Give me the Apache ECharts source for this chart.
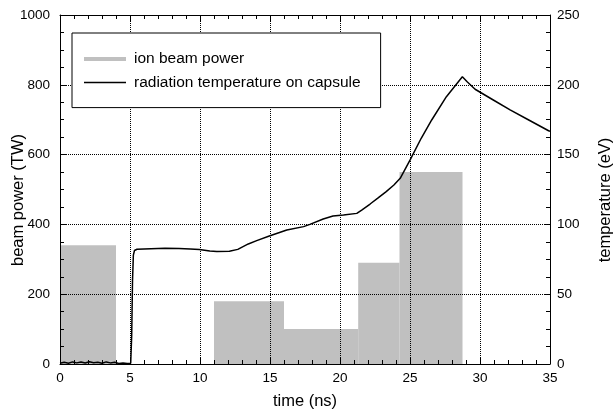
<!DOCTYPE html>
<html>
<head>
<meta charset="utf-8">
<script src="https://cdn.jsdelivr.net/npm/echarts@6/dist/echarts.min.js"></script>
<style>html,body{margin:0;padding:0;background:#fff}#c{width:613px;height:410px}</style>
</head>
<body>
<div id="c"></div>
<script>
// ---- data ----
var beamStart = [0, 11, 16, 21.3, 24.25];
var beamEnd   = [4, 16, 21.3, 24.25, 28.75];
var beamPower = [340, 180, 100, 290, 550];

var tempTime = [0,0.3,0.6,0.9,1.2,1.5,1.8,2.1,2.4,2.7,3.0,3.3,3.6,3.9,4.2,4.5,4.8,5.05,
  5.12,5.18,5.24,5.32,5.5,6.5,7.5,8.5,9.3,9.95,10.7,11.2,12.1,12.7,13.45,14.05,14.95,16.2,17.4,
  17.85,18.8,19.5,20.25,21.2,21.55,22.15,22.7,23.3,23.85,24.3,25.0,25.8,26.55,27.6,28.74,
  29.1,29.65,30.95,32.15,33.35,34.9,35];
var tempEV = [0.5,1.2,0.6,1.5,0.8,1.4,0.7,1.6,0.9,1.3,0.6,1.5,0.8,1.2,0.4,0.7,0.3,0.5,
  20,60,78,81.3,82.2,82.6,83,82.8,82.4,82.1,80.9,80.5,80.7,82.1,86,88.4,91.7,96,98.4,
  100,103.9,106,106.7,107.9,110.3,114.6,118.8,123.5,128.2,133,146,161.7,174.8,191.5,205.8,
  202,196.8,189.1,182,175.5,167.1,166.7];

var xTicks = [0, 5, 10, 15, 20, 25, 30, 35];
var powerTicks = [0, 200, 400, 600, 800, 1000];
var tempTicks = [0, 50, 100, 150, 200, 250];

var seriesNames = ['ion beam power', 'radiation temperature on capsule'];

// ---- chart ----
var FONT = "'Liberation Sans', Arial, Helvetica, sans-serif";
var chart = echarts.init(document.getElementById('c'), null, {renderer: 'canvas'});

var beamData = beamStart.map(function (s, i) { return [s, beamEnd[i], beamPower[i]]; });
var tempData = tempTime.map(function (t, i) { return [t, tempEV[i]]; });

var axisLineStyle = {color: '#000', width: 1};
var gridLine = {show: true, lineStyle: {color: '#000', width: 1, type: [1, 1]}};
function plain(v) { return String(v); }

function xAx(pos, labels) {
  return {
    type: 'value', position: pos, min: xTicks[0], max: xTicks[xTicks.length - 1], interval: 5,
    name: labels ? 'time (ns)' : '', nameLocation: 'middle', nameGap: 29, nameMoveOverlap: false,
    nameTextStyle: {fontFamily: FONT, fontSize: 16.5, color: '#000'},
    axisLine: {show: true, onZero: false, lineStyle: axisLineStyle},
    axisTick: {show: true, inside: true, length: 6, lineStyle: axisLineStyle},
    minorTick: {show: true, splitNumber: 5, length: 4, lineStyle: axisLineStyle},
    axisLabel: {show: labels, margin: 7, fontFamily: FONT, fontSize: 13.5, color: '#000', formatter: plain},
    splitLine: labels ? gridLine : {show: false}
  };
}

var option = {
  animation: false,
  backgroundColor: '#fff',
  grid: {left: 60, right: 63, top: 15, bottom: 46, containLabel: false, outerBoundsMode: 'none'},
  legend: {
    show: true, orient: 'vertical', left: 72, top: 33,
    padding: [18, 20, 17, 12],
    itemWidth: 42, itemHeight: 4, itemGap: 7.6,
    borderColor: '#000', borderWidth: 1, backgroundColor: '#fff',
    selectedMode: false,
    textStyle: {fontFamily: FONT, fontSize: 15.5, color: '#000', padding: [0, 0, 0, 3]},
    data: [
      {name: seriesNames[0], icon: 'path://M0,0H42V4H0Z', itemStyle: {color: '#c0c0c0'}},
      {name: seriesNames[1], icon: 'path://M0,0H0.01V0.01H0Z M0,1.25H42V2.75H0Z M41.99,3.99H42V4H41.99Z', itemStyle: {color: '#000'}}
    ]
  },
  xAxis: [xAx('bottom', true), xAx('top', false)],
  yAxis: [
    {
      type: 'value', position: 'left', min: powerTicks[0], max: powerTicks[powerTicks.length - 1], interval: 200,
      name: 'beam power (TW)', nameLocation: 'middle', nameGap: 33, nameRotate: 90, nameMoveOverlap: false,
      nameTextStyle: {fontFamily: FONT, fontSize: 16.5, color: '#000', padding: [0, 21, 0, 0]},
      axisLine: {show: true, onZero: false, lineStyle: axisLineStyle},
      axisTick: {show: true, inside: true, length: 6, lineStyle: axisLineStyle},
      minorTick: {show: true, splitNumber: 4, length: 4, lineStyle: axisLineStyle},
      axisLabel: {margin: 10, fontFamily: FONT, fontSize: 13.5, color: '#000', formatter: plain},
      splitLine: gridLine
    },
    {
      type: 'value', position: 'right', min: tempTicks[0], max: tempTicks[tempTicks.length - 1], interval: 50,
      name: 'temperature (eV)', nameLocation: 'middle', nameGap: 47, nameRotate: 90, nameMoveOverlap: false,
      nameTextStyle: {fontFamily: FONT, fontSize: 16.5, color: '#000', padding: [0, 21, 0, 0]},
      axisLine: {show: true, onZero: false, lineStyle: axisLineStyle},
      axisTick: {show: true, inside: true, length: 6, lineStyle: axisLineStyle},
      minorTick: {show: true, splitNumber: 4, length: 4, lineStyle: axisLineStyle},
      axisLabel: {margin: 7, fontFamily: FONT, fontSize: 13.5, color: '#000', formatter: plain},
      splitLine: {show: false}
    }
  ],
  series: [
    {
      name: seriesNames[0], type: 'custom', xAxisIndex: 0, yAxisIndex: 0, z: -1,
      itemStyle: {color: '#c0c0c0'},
      encode: {x: [0, 1], y: 2},
      data: beamData,
      renderItem: function (params, api) {
        var p0 = api.coord([api.value(0), api.value(2)]);
        var p1 = api.coord([api.value(1), 0]);
        return {
          type: 'rect',
          shape: {x: p0[0], y: p0[1], width: p1[0] - p0[0], height: p1[1] - p0[1]},
          style: {fill: '#c0c0c0'}
        };
      }
    },
    {
      name: seriesNames[1], type: 'line', xAxisIndex: 0, yAxisIndex: 1, z: 3,
      data: tempData, showSymbol: false, symbol: 'none', smooth: false,
      lineStyle: {color: '#000', width: 1.5}, itemStyle: {color: '#000'}
    }
  ]
};
chart.setOption(option);
</script>
</body>
</html>
